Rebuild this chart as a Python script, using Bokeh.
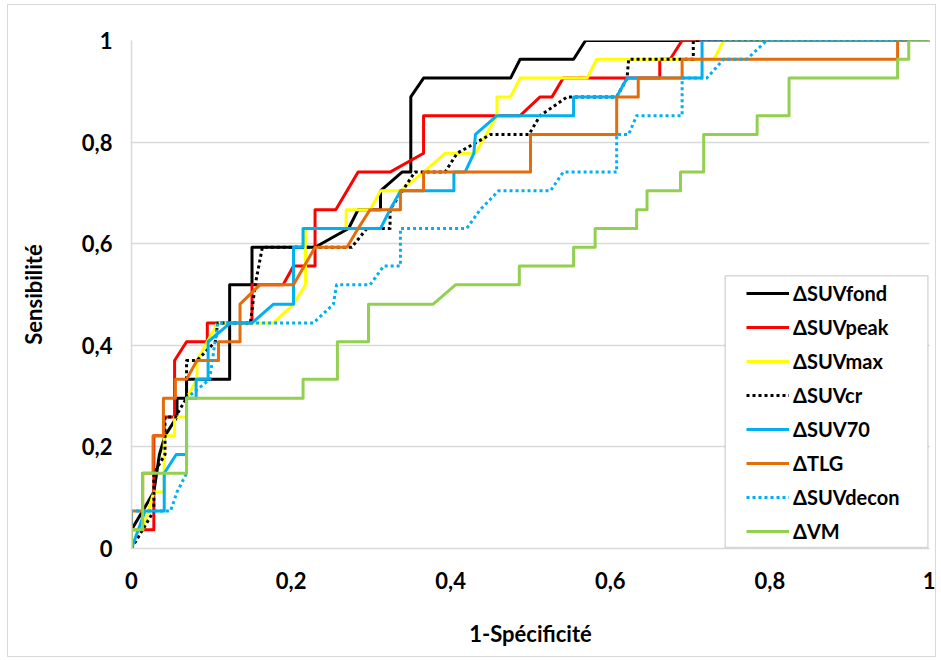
from bokeh.plotting import figure
from bokeh.models import Range1d, FixedTicker, Legend, LegendItem, BoxAnnotation
from bokeh.embed import file_html
from bokeh.resources import INLINE

# ---------------- data (1 - specificity, sensitivity) ----------------
fond_x = [0, 0, 0.014, 0.028, 0.035, 0.042, 0.057, 0.057, 0.069, 0.069, 0.123, 0.123, 0.151, 0.151,
          0.230, 0.272, 0.284, 0.312, 0.312, 0.339, 0.350, 0.350, 0.366, 0.475, 0.487, 0.554, 0.569, 1]
fond_y = [0, 0.037, 0.074, 0.111, 0.185, 0.222, 0.259, 0.296, 0.296, 0.333, 0.333, 0.519, 0.519, 0.593,
          0.593, 0.630, 0.667, 0.667, 0.704, 0.741, 0.741, 0.889, 0.926, 0.926, 0.963, 0.963, 1, 1]

peak_x = [0, 0, 0.028, 0.028, 0.041, 0.041, 0.054, 0.054, 0.069, 0.095, 0.095, 0.151, 0.151, 0.190,
          0.203, 0.230, 0.230, 0.256, 0.284, 0.324, 0.366, 0.366, 0.487, 0.512, 0.527, 0.541, 0.662,
          0.662, 0.675, 0.690, 1]
peak_y = [0, 0.037, 0.037, 0.222, 0.222, 0.259, 0.259, 0.370, 0.407, 0.407, 0.444, 0.444, 0.519, 0.519,
          0.556, 0.556, 0.667, 0.667, 0.741, 0.741, 0.778, 0.852, 0.852, 0.889, 0.889, 0.926, 0.926,
          0.963, 0.963, 1, 1]

max_x = [0, 0, 0.014, 0.028, 0.041, 0.041, 0.054, 0.054, 0.069, 0.069, 0.082, 0.082, 0.108, 0.178,
         0.203, 0.218, 0.218, 0.269, 0.269, 0.299, 0.312, 0.337, 0.366, 0.393, 0.431, 0.458, 0.458,
         0.475, 0.487, 0.571, 0.583, 0.730, 0.742, 1]
max_y = [0, 0.037, 0.037, 0.111, 0.111, 0.222, 0.222, 0.259, 0.259, 0.296, 0.333, 0.370, 0.444, 0.444,
         0.481, 0.519, 0.630, 0.630, 0.667, 0.667, 0.704, 0.704, 0.741, 0.778, 0.778, 0.852, 0.889,
         0.889, 0.926, 0.926, 0.963, 0.963, 1, 1]

cr_x = [0, 0.014, 0.028, 0.028, 0.042, 0.042, 0.055, 0.069, 0.069, 0.082, 0.105, 0.108, 0.149, 0.155,
        0.164, 0.276, 0.295, 0.324, 0.324, 0.355, 0.393, 0.408, 0.450, 0.498, 0.512, 0.546, 0.608,
        0.621, 0.623, 0.704, 0.704, 1]
cr_y = [0, 0.037, 0.074, 0.148, 0.185, 0.259, 0.259, 0.296, 0.370, 0.370, 0.407, 0.444, 0.444, 0.519,
        0.593, 0.593, 0.630, 0.630, 0.667, 0.741, 0.741, 0.778, 0.815, 0.815, 0.852, 0.889, 0.889,
        0.926, 0.963, 0.963, 1, 1]

s70_x = [0, 0.017, 0.041, 0.041, 0.056, 0.069, 0.069, 0.081, 0.081, 0.096, 0.096, 0.124, 0.151, 0.178,
         0.203, 0.203, 0.215, 0.215, 0.312, 0.324, 0.337, 0.404, 0.404, 0.418, 0.429, 0.431, 0.458,
         0.554, 0.554, 0.608, 0.621, 0.715, 0.715, 1]
s70_y = [0, 0.074, 0.074, 0.148, 0.185, 0.185, 0.296, 0.296, 0.333, 0.333, 0.407, 0.444, 0.444, 0.481,
         0.481, 0.593, 0.593, 0.630, 0.630, 0.667, 0.704, 0.704, 0.741, 0.741, 0.778, 0.815, 0.852,
         0.852, 0.889, 0.889, 0.926, 0.926, 1, 1]

tlg_x = [0, 0, 0.014, 0.014, 0.027, 0.027, 0.040, 0.040, 0.055, 0.055, 0.069, 0.082, 0.109, 0.109,
         0.136, 0.136, 0.161, 0.203, 0.230, 0.270, 0.284, 0.299, 0.337, 0.337, 0.366, 0.366, 0.500,
         0.500, 0.608, 0.608, 0.635, 0.635, 0.690, 0.690, 0.960, 0.960, 1]
tlg_y = [0, 0.074, 0.074, 0.148, 0.148, 0.222, 0.222, 0.296, 0.296, 0.333, 0.333, 0.370, 0.370, 0.407,
         0.407, 0.481, 0.519, 0.519, 0.593, 0.593, 0.630, 0.667, 0.667, 0.704, 0.704, 0.741, 0.741,
         0.815, 0.815, 0.889, 0.889, 0.926, 0.926, 0.963, 0.963, 1, 1]

decon_x = [0, 0, 0.049, 0.057, 0.069, 0.069, 0.098, 0.108, 0.228, 0.253, 0.257, 0.299, 0.316, 0.337,
           0.337, 0.420, 0.437, 0.460, 0.525, 0.541, 0.608, 0.608, 0.623, 0.633, 0.690, 0.690, 0.721,
           0.742, 0.771, 0.796, 1]
decon_y = [0, 0.074, 0.074, 0.111, 0.148, 0.296, 0.333, 0.444, 0.444, 0.481, 0.519, 0.519, 0.556, 0.556,
           0.630, 0.630, 0.667, 0.704, 0.704, 0.741, 0.741, 0.815, 0.815, 0.852, 0.852, 0.926, 0.926,
           0.963, 0.963, 1, 1]

vm_x = [0, 0, 0.014, 0.014, 0.069, 0.069, 0.215, 0.215, 0.258, 0.258, 0.297, 0.297, 0.378, 0.406,
        0.486, 0.486, 0.554, 0.554, 0.581, 0.581, 0.633, 0.633, 0.646, 0.646, 0.688, 0.688, 0.717,
        0.717, 0.784, 0.784, 0.824, 0.824, 0.960, 0.960, 0.974, 0.974, 1]
vm_y = [0, 0.037, 0.037, 0.148, 0.148, 0.296, 0.296, 0.333, 0.333, 0.407, 0.407, 0.481, 0.481, 0.519,
        0.519, 0.556, 0.556, 0.593, 0.593, 0.630, 0.630, 0.667, 0.667, 0.704, 0.704, 0.741, 0.741,
        0.815, 0.815, 0.852, 0.852, 0.926, 0.926, 0.963, 0.963, 1, 1]

series_labels = ["\u0394SUVfond", "\u0394SUVpeak", "\u0394SUVmax", "\u0394SUVcr",
                 "\u0394SUV70", "\u0394TLG", "\u0394SUVdecon", "\u0394VM"]
tick_values = [0, 0.2, 0.4, 0.6, 0.8, 1]
tick_labels = ["0", "0,2", "0,4", "0,6", "0,8", "1"]
x_title = "1-Sp\u00e9cificit\u00e9"
y_title = "Sensibilit\u00e9"

# ---------------- styles ----------------
series = [
    (fond_x, fond_y, "#000000", "solid"),
    (peak_x, peak_y, "#ff0000", "solid"),
    (max_x, max_y, "#ffff00", "solid"),
    (cr_x, cr_y, "#000000", "3 3"),
    (s70_x, s70_y, "#00b0f0", "solid"),
    (tlg_x, tlg_y, "#e46c0a", "solid"),
    (decon_x, decon_y, "#00b0f0", "3 3"),
    (vm_x, vm_y, "#92d050", "solid"),
]
FONT = "Lato"

p = figure(width=929, height=653, x_range=Range1d(0, 1), y_range=Range1d(0, 1),
           output_backend="svg", toolbar_location=None,
           min_border_left=123, min_border_top=35, min_border_right=8, min_border_bottom=110)
p.outline_line_color = None
p.background_fill_color = "white"
p.border_fill_color = "white"
p.styles = {"border": "1px solid #d9d9d9", "margin-left": "7px", "margin-top": "4px"}

p.xgrid.visible = False
p.ygrid.grid_line_color = "#d9d9d9"
p.ygrid.grid_line_width = 1.5

for ax in (p.xaxis[0], p.yaxis[0]):
    ax.ticker = FixedTicker(ticks=tick_values)
    ax.major_label_overrides = {v: t for v, t in zip(tick_values, tick_labels)}
    ax.axis_line_color = "#d9d9d9"
    ax.axis_line_width = 1.5
    ax.major_tick_line_color = None
    ax.minor_tick_line_color = None
    ax.major_tick_out = 0
    ax.major_tick_in = 0
    ax.major_label_text_font = FONT
    ax.major_label_text_font_style = "bold"
    ax.major_label_text_font_size = "22px"
    ax.major_label_text_color = "#000000"
    ax.axis_label_text_font = FONT
    ax.axis_label_text_font_style = "bold"
    ax.axis_label_text_font_size = "22px"
    ax.axis_label_text_color = "#000000"

p.xaxis.axis_label = x_title
p.yaxis.axis_label = y_title
p.xaxis.major_label_standoff = 23
p.xaxis.axis_label_standoff = 28
p.yaxis.major_label_standoff = 19
p.yaxis.axis_label_standoff = 32

renderers = []
for xs, ys, color, dash in series:
    r = p.line(xs, ys, line_color=color, line_width=3, line_dash=dash, line_join="round")
    renderers.append(r)

# legend frame
box = BoxAnnotation(left=0.744, right=0.998, bottom=0.002, top=0.537,
                    fill_color="white", fill_alpha=1.0,
                    line_color="#808080", line_width=1.5)
p.add_layout(box)

legend = Legend(items=[LegendItem(label=lab, renderers=[r]) for lab, r in zip(series_labels, renderers)],
                location=(615, 0), orientation="vertical")
legend.padding = 0
legend.spacing = 0
legend.margin = 0
legend.label_height = 34
legend.glyph_height = 34
legend.glyph_width = 43
legend.label_standoff = 4
legend.background_fill_alpha = 0
legend.border_line_color = None
legend.label_text_font = FONT
legend.label_text_font_style = "bold"
legend.label_text_font_size = "20px"
legend.label_text_color = "#000000"
p.add_layout(legend, "center")

open("out.html", "w").write(file_html(p, INLINE))
